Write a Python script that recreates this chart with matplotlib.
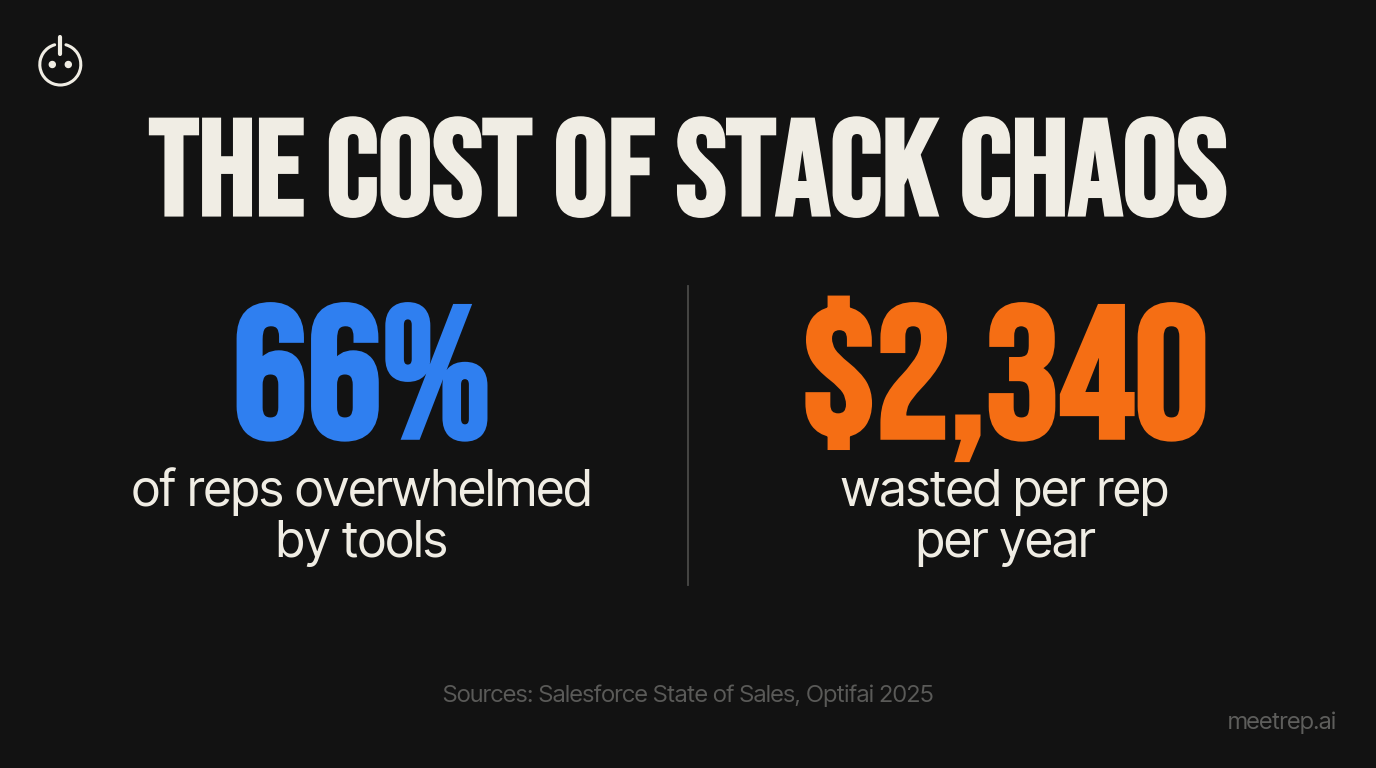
import matplotlib
matplotlib.use("Agg")
import matplotlib.pyplot as plt
import matplotlib.patheffects as pe
from matplotlib.patches import Circle, Arc

title = "THE COST OF STACK CHAOS"
stat_left = "66%"
stat_right = "$2,340"
caption_left = ["of reps overwhelmed", "by tools"]
caption_right = ["wasted per rep", "per year"]
source = "Sources: Salesforce State of Sales, Optifai 2025"
brand = "meetrep.ai"

BG = "#121212"
CREAM = "#F0EDE4"
BLUE = "#2F7FF0"
ORANGE = "#F56E14"
BODY = ["Inter Tight", "Inter"]

fig = plt.figure(figsize=(13.76, 7.68), dpi=100, facecolor=BG)
ax = fig.add_axes([0, 0, 1, 1])
ax.set_xlim(0, 1376)
ax.set_ylim(768, 0)
ax.axis("off")

heavy = dict(family="Bebas Neue", ha="center", va="baseline")
def thicken(t, color, w):
    t.set_path_effects([pe.withStroke(linewidth=w, foreground=color, joinstyle="miter")])

thicken(ax.text(688, 214.5, title, fontsize=97.5, color=CREAM, **heavy), CREAM, 3)
thicken(ax.text(362, 437, stat_left, fontsize=134, color=BLUE, **heavy), BLUE, 4)
thicken(ax.text(1005, 437, stat_right, fontsize=134, color=ORANGE, **heavy), ORANGE, 4)

cap = dict(fontsize=36.4, color=CREAM, family=BODY, ha="center", va="baseline")
ax.text(362, 506, caption_left[0], **cap)
ax.text(362, 557, caption_left[1], **cap)
ax.text(1005, 506, caption_right[0], **cap)
ax.text(1005, 557, caption_right[1], **cap)

ax.plot([688, 688], [286, 585], color="#4a4a48", lw=1.3)
ax.text(688, 702, source, fontsize=17.3, color="#5a5a58", family=BODY, ha="center", va="baseline")
ax.text(1337, 729, brand, fontsize=17.2, color="#5e5e5c", family=BODY, ha="right", va="baseline")

# logo
ax.add_patch(Arc((60.3, 64.5), 41, 41, theta1=-74, theta2=254, ec=CREAM, lw=2.2, capstyle="round"))
ax.plot([60.3, 60.3], [36.5, 53.5], color=CREAM, lw=3, solid_capstyle="round")
ax.add_patch(Circle((52.3, 64.5), 3, color=CREAM))
ax.add_patch(Circle((68.3, 64.5), 3, color=CREAM))

fig.savefig("out.png", dpi=100, facecolor=BG)
